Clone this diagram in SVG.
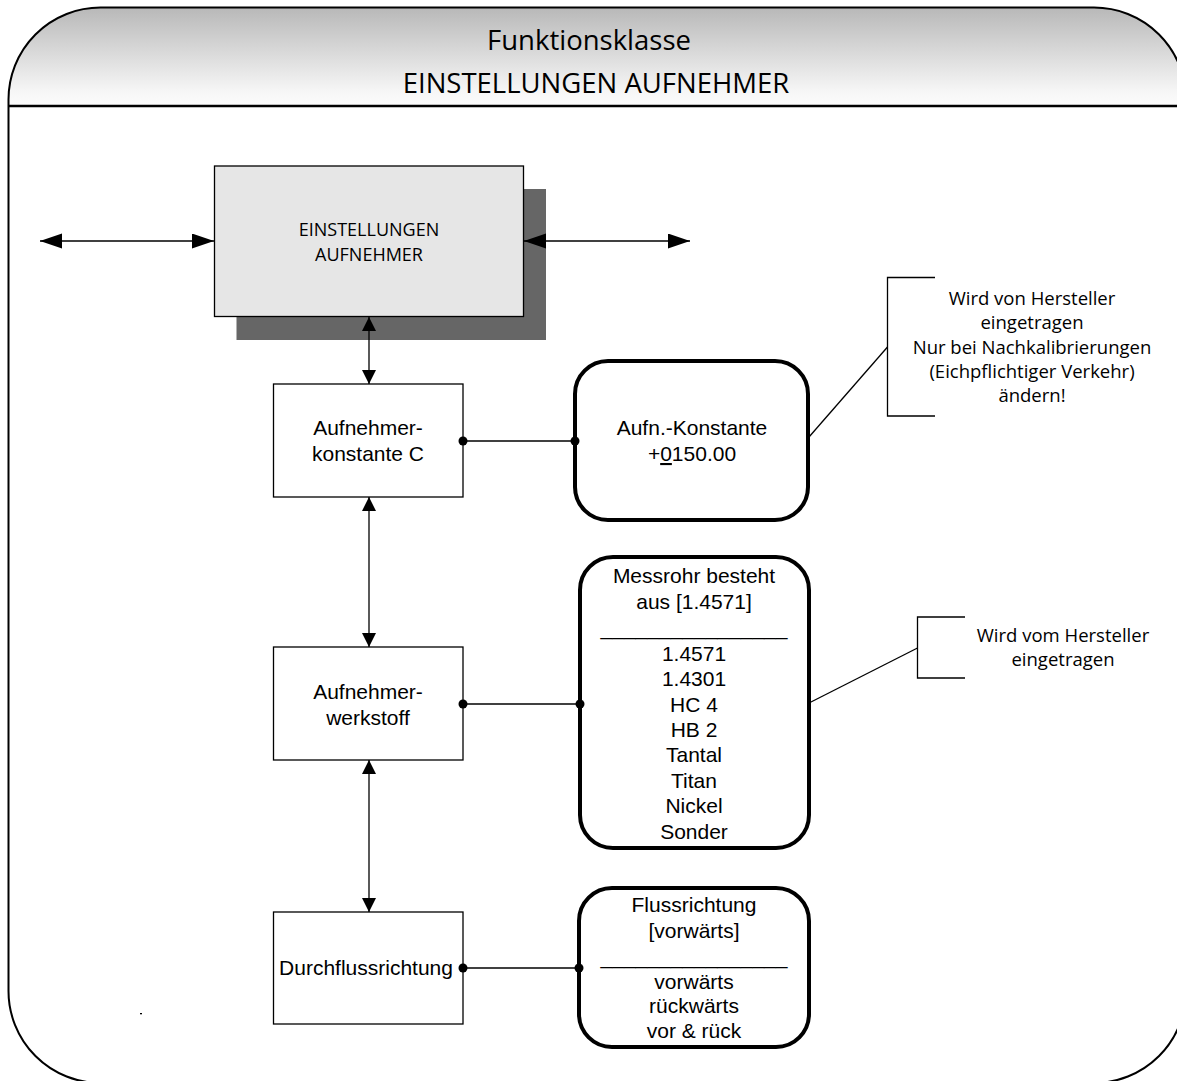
<svg xmlns="http://www.w3.org/2000/svg" width="1177" height="1081" viewBox="0 0 1177 1081">
<defs>
<linearGradient id="hdr" x1="0" y1="0" x2="0" y2="1">
<stop offset="0" stop-color="#b8b8b8"/>
<stop offset="0.85" stop-color="#f6f6f6"/>
<stop offset="1" stop-color="#fcfcfc"/>
</linearGradient>
<marker id="ah" markerUnits="userSpaceOnUse" markerWidth="22" markerHeight="16" refX="22" refY="7.5" orient="auto-start-reverse">
<path d="M0,0 L22,7.5 L0,15 Z" fill="#000"/>
</marker>
<marker id="av" markerUnits="userSpaceOnUse" markerWidth="15" markerHeight="14" refX="14" refY="7" orient="auto-start-reverse">
<path d="M0,0 L14,7 L0,14 Z" fill="#000"/>
</marker>
</defs>
<style>
.frame{fill:none;stroke:#000;stroke-width:2}
.box{fill:#fff;stroke:#000;stroke-width:1.3}
.rbox{fill:#fff;stroke:#000;stroke-width:4}
.conn{fill:none;stroke:#000;stroke-width:1.3}
.dot{fill:#000}
.ta{font-family:"Liberation Sans",Arial,sans-serif;font-size:21px;fill:#000;text-anchor:middle}
.tc{font-family:"Open Sans","Noto Sans",sans-serif;fill:#000;text-anchor:middle}
.note{font-size:18.5px}
</style>
<rect width="1177" height="1081" fill="#fff"/>
<g id="frame">
<path d="M8.5,106 V99.5 A92,92 0 0 1 100.5,7.5 H1094 A92,92 0 0 1 1186,99.5 V106 Z" fill="url(#hdr)"/>
<rect class="frame" x="8.5" y="7.5" width="1177.5" height="1075.5" rx="92" ry="92"/>
<line x1="8.5" y1="106" x2="1186" y2="106" stroke="#000" stroke-width="2.5"/>
<text class="tc" x="589" y="50" font-size="27.5">Funktionsklasse</text>
<text class="tc" x="596" y="93" font-size="27.5">EINSTELLUNGEN AUFNEHMER</text>
</g>
<g id="main">
<rect x="236.5" y="189" width="309.5" height="151" fill="#666"/>
<rect x="214.5" y="166" width="309" height="150.5" fill="#e6e6e6" stroke="#000" stroke-width="1.3"/>
<text class="tc" x="369" y="236" font-size="18">EINSTELLUNGEN</text>
<text class="tc" x="369" y="261" font-size="18">AUFNEHMER</text>
</g>
<g id="konstante">
<rect class="box" x="273.5" y="384" width="189.5" height="113"/>
<text class="ta" x="368" y="435">Aufnehmer-</text>
<text class="ta" x="368" y="461">konstante C</text>
</g>
<g id="aufn-konstante">
<rect class="rbox" x="575" y="361" width="233" height="159" rx="33" ry="33"/>
<text class="ta" x="692" y="435">Aufn.-Konstante</text>
<text class="ta" x="692" y="461">+<tspan text-decoration="underline">0</tspan>150.00</text>
</g>
<g id="note1">
<path class="conn" d="M935,277.5 H887.5 V416 H935"/>
<text class="tc note" x="1032" y="305">Wird von Hersteller</text>
<text class="tc note" x="1032" y="329">eingetragen</text>
<text class="tc note" x="1032" y="354">Nur bei Nachkalibrierungen</text>
<text class="tc note" x="1032" y="378">(Eichpflichtiger Verkehr)</text>
<text class="tc note" x="1032" y="402">ändern!</text>
</g>
<g id="werkstoff">
<rect class="box" x="273.5" y="647" width="189.5" height="113"/>
<text class="ta" x="368" y="699">Aufnehmer-</text>
<text class="ta" x="368" y="725">werkstoff</text>
</g>
<g id="messrohr">
<rect class="rbox" x="580" y="557" width="229" height="291" rx="33" ry="33"/>
<text class="ta" x="694" y="583">Messrohr besteht</text>
<text class="ta" x="694" y="609">aus [1.4571]</text>
<text class="ta" x="694" y="635">________________</text>
<text class="ta" x="694" y="661">1.4571</text>
<text class="ta" x="694" y="686">1.4301</text>
<text class="ta" x="694" y="712">HC 4</text>
<text class="ta" x="694" y="737">HB 2</text>
<text class="ta" x="694" y="762">Tantal</text>
<text class="ta" x="694" y="788">Titan</text>
<text class="ta" x="694" y="813">Nickel</text>
<text class="ta" x="694" y="839">Sonder</text>
</g>
<g id="note2">
<path class="conn" d="M965,617 H917.5 V678 H965"/>
<text class="tc note" x="1063" y="642">Wird vom Hersteller</text>
<text class="tc note" x="1063" y="666">eingetragen</text>
</g>
<g id="durchfluss">
<rect class="box" x="273.5" y="912" width="189.5" height="112"/>
<text class="ta" x="366" y="975">Durchflussrichtung</text>
</g>
<g id="flussrichtung">
<rect class="rbox" x="579" y="888" width="230" height="159" rx="33" ry="33"/>
<text class="ta" x="694" y="912">Flussrichtung</text>
<text class="ta" x="694" y="938">[vorwärts]</text>
<text class="ta" x="694" y="964">________________</text>
<text class="ta" x="694" y="989">vorwärts</text>
<text class="ta" x="694" y="1013">rückwärts</text>
<text class="ta" x="694" y="1038">vor &amp; rück</text>
</g>
<g id="connectors">
<line class="conn" x1="40" y1="241" x2="214" y2="241" marker-start="url(#ah)" marker-end="url(#ah)"/>
<line class="conn" x1="524" y1="241" x2="690" y2="241" marker-start="url(#ah)" marker-end="url(#ah)"/>
<line class="conn" x1="369" y1="317" x2="369" y2="384" marker-start="url(#av)" marker-end="url(#av)"/>
<line class="conn" x1="369" y1="497" x2="369" y2="647" marker-start="url(#av)" marker-end="url(#av)"/>
<line class="conn" x1="369" y1="760" x2="369" y2="912" marker-start="url(#av)" marker-end="url(#av)"/>
<line class="conn" x1="463" y1="441" x2="575" y2="441"/>
<circle class="dot" cx="463" cy="441" r="4.5"/>
<circle class="dot" cx="575" cy="441" r="4.5"/>
<line class="conn" x1="463" y1="704" x2="580" y2="704"/>
<circle class="dot" cx="463" cy="704" r="4.5"/>
<circle class="dot" cx="580" cy="704" r="4.5"/>
<line class="conn" x1="463" y1="968" x2="579" y2="968"/>
<circle class="dot" cx="463" cy="968" r="4.5"/>
<circle class="dot" cx="579" cy="968" r="4.5"/>
<line class="conn" x1="809" y1="437" x2="887.5" y2="347"/>
<line class="conn" x1="809" y1="703" x2="917.5" y2="648"/>
</g>
<rect x="140" y="1013" width="2" height="1.3" fill="#000"/>
</svg>
